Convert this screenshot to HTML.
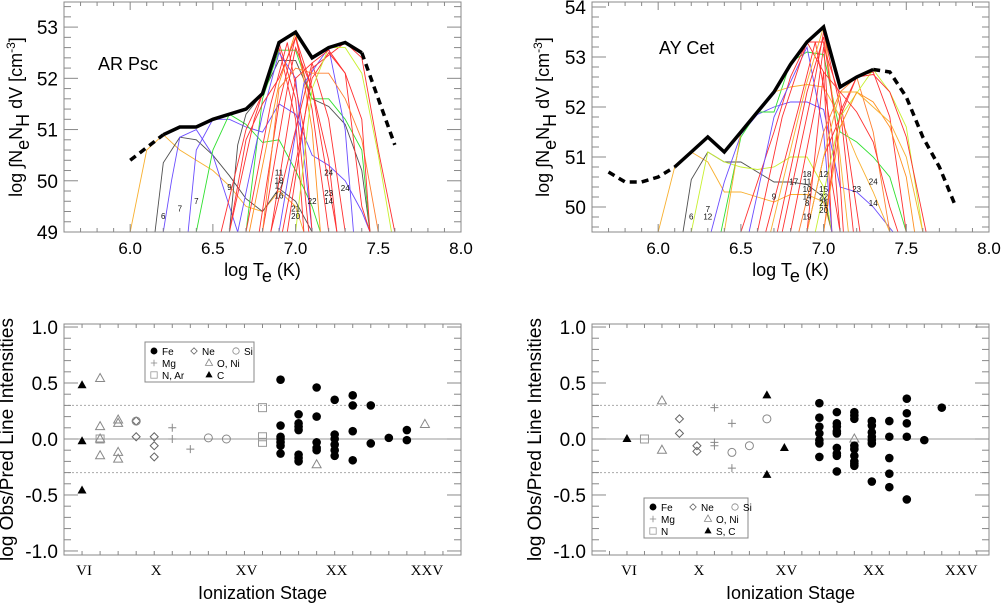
<!DOCTYPE html>
<html><head><meta charset="utf-8">
<style>
html,body{margin:0;padding:0;background:#fff;}
body{width:1002px;height:603px;overflow:hidden;font-family:"Liberation Sans",sans-serif;}
svg text{font-family:"Liberation Sans",sans-serif;}
.serif{font-family:"Liberation Serif",serif !important;}
</style></head>
<body>
<svg id="fig" width="1002" height="603" viewBox="0 0 1002 603" xmlns="http://www.w3.org/2000/svg"></svg>
<script>
// ===== DATA =====
const emdA_T = [6.2,6.3,6.4,6.5,6.6,6.7,6.8,6.9,7.0,7.1,7.2,7.3,7.4];
const emdA_V = [50.9,51.05,51.05,51.2,51.3,51.4,51.7,52.7,52.9,52.4,52.6,52.7,52.5];
const emdA_dashLo_T = [6.0,6.2];
const emdA_dashLo_V = [50.4,50.9];
const emdA_dashHi_T = [7.4,7.6];
const emdA_dashHi_V = [52.5,50.7];
const emdB_T = [6.1,6.2,6.3,6.4,6.5,6.6,6.7,6.8,6.9,7.0,7.1,7.2,7.3];
const emdB_V = [50.8,51.1,51.4,51.1,51.5,51.9,52.3,52.85,53.3,53.6,52.4,52.6,52.75];
const emdB_dashLo_T = [5.7,5.8,5.9,6.0,6.1];
const emdB_dashLo_V = [50.7,50.5,50.5,50.6,50.8];
const emdB_dashHi_T = [7.3,7.4,7.5,7.6,7.7,7.8];
const emdB_dashHi_V = [52.75,52.7,52.2,51.4,50.8,50.0];

const lociA = [
 [6.0,49,6.1,50.6,6.2,50.9,6.3,50.6,6.4,50.4,6.5,50.2,6.6,49.9,6.7,49.5,6.8,49.4,6.9,49.8,7.0,49.5,7.05,49],
 [6.15,49,6.2,50.35,6.3,50.85,6.4,50.8,6.5,50.5,6.6,50.1,6.7,49.65,6.8,49.4,6.9,49.85,7.0,49.6,7.1,49],
 [6.2,49,6.25,50,6.3,50.85,6.4,51.0,6.5,50.5,6.6,49.5,6.65,49],
 [6.35,49,6.4,50.6,6.5,51.2,6.6,51.2,6.7,51.05,6.8,50.95,6.9,51.5,7.0,51.3,7.1,50.5,7.2,50.3,7.3,50.0,7.4,49.4,7.45,49],
 [6.4,49,6.5,50.6,6.6,51.3,6.7,51.1,6.8,50.75,6.9,50.8,7.0,50.2,7.1,49.5,7.15,49],
 [6.6,49,6.65,50.7,6.7,51.3,6.8,51.7,6.9,52.35,7.0,52.35,7.1,51.6,7.2,51.45,7.3,51.1,7.4,50.2,7.45,49],
 [6.7,49,6.8,51.6,6.9,52.55,7.0,52.55,7.1,51.6,7.2,51.6,7.3,51.2,7.4,50.6,7.45,49],
 [6.55,49,6.7,51.0,6.8,51.7,6.9,52.6,7.0,51.2,7.05,49],
 [6.6,49,6.75,51.2,6.9,52.7,7.0,51.6,7.08,49],
 [6.65,49,6.8,51.3,6.9,52.5,7.0,52.0,7.1,49],
 [6.7,49,6.85,51.5,6.95,52.7,7.05,51.0,7.1,49],
 [6.72,49,6.9,51.9,7.0,52.9,7.1,51.0,7.15,49],
 [6.78,49,6.9,51.5,7.0,52.8,7.1,51.4,7.2,49],
 [6.8,49,6.95,51.8,7.0,52.6,7.1,51.8,7.25,49],
 [6.85,49,7.0,52.0,7.1,52.3,7.2,51.2,7.3,49],
 [6.9,49,7.05,51.9,7.2,52.6,7.3,51.0,7.35,49],
 [6.92,49,7.1,52.0,7.2,52.5,7.3,52.1,7.4,49.5,7.45,49],
 [6.95,49,7.1,52.2,7.3,52.7,7.4,52.4,7.5,50.6,7.6,49],
 [7.0,49,7.1,51.8,7.2,52.6,7.3,52.6,7.4,52.1,7.5,50.5,7.58,49],
 [6.8,49,6.9,51.8,7.0,52.2,7.1,52.1,7.2,52.1,7.3,51.6,7.4,50.8,7.5,49],
 [6.85,49,7.0,51.0,7.1,52.3,7.2,52.55,7.3,52.1,7.4,51.2,7.45,49],
 [6.6,49,6.7,50.8,6.8,51.5,6.9,52.0,7.0,52.8,7.1,51.8,7.2,50.4,7.25,49]
];
const lociA_colors = ['#f8b030','#505050','#6a4cff','#6a4cff','#30e030','#505050','#30e030','#ff3030','#ff3030','#6a4cff','#ff3030','#ff9020','#ff3030','#ff3030','#ff3030','#6a4cff','#ff3030','#ff3030','#c8f030','#ff8030','#ff3030','#ff3030'];
const labelsA_T = [6.2,6.3,6.4,6.6,6.9,6.9,6.9,6.9,7.0,7.0,7.1,7.2,7.2,7.2,7.3];
const labelsA_V = [49.25,49.4,49.55,49.82,50.1,49.95,49.85,49.65,49.4,49.25,49.55,50.1,49.7,49.55,49.8];
const labelsA_S = ['6','7','7','9','11','18','17','16','21','20','22','24','23','14','24'];

const lociB = [
 [6.0,49.5,6.1,50.8,6.2,51.1,6.3,50.9,6.4,50.3,6.5,50.3,6.6,50.2,6.7,50.1,6.8,50.25,6.9,50.25,7.0,50.1,7.05,49.5],
 [6.15,49.5,6.2,50.55,6.3,51.1,6.4,50.9,6.5,50.9,6.6,50.7,6.7,50.5,6.8,50.5,6.9,50.45,7.0,50.2,7.05,49.5],
 [6.2,49.5,6.3,51.1,6.4,50.9,6.5,50.8,6.6,50.75,6.7,50.8,6.8,51.0,6.9,51.0,7.0,50.4,7.05,49.5],
 [6.32,49.5,6.4,50.5,6.5,51.45,6.6,51.85,6.7,52.0,6.8,52.1,6.9,52.1,7.0,51.95,7.1,50.4,7.2,50.3,7.3,50.0,7.42,49.5],
 [6.38,49.5,6.5,51.4,6.6,51.9,6.7,51.9,6.8,52.9,6.9,53.1,7.0,53.05,7.1,51.5,7.2,51.3,7.3,51.0,7.4,50.6,7.5,49.5],
 [6.4,49.5,6.5,51.5,6.6,51.9,6.7,52.3,6.8,52.4,6.9,52.45,7.0,52.4,7.1,51.8,7.2,51.0,7.3,50.3,7.4,49.5],
 [6.5,49.5,6.7,51.5,6.8,52.6,6.9,53.3,7.0,52.7,7.05,49.5],
 [6.55,49.5,6.7,51.8,6.9,53.2,7.0,51.5,7.05,49.5],
 [6.6,49.5,6.75,51.8,6.9,53.3,7.0,53.3,7.05,50.5,7.1,49.5],
 [6.65,49.5,6.85,52.0,6.95,53.3,7.05,51.5,7.1,49.5],
 [6.68,49.5,6.9,52.5,7.0,53.6,7.1,51.0,7.15,49.5],
 [6.72,49.5,6.9,52.3,7.0,53.4,7.08,51.5,7.12,49.5],
 [6.75,49.5,6.95,52.6,7.0,53.5,7.1,52.0,7.18,49.5],
 [6.8,49.5,6.95,52.0,7.0,53.2,7.1,52.2,7.22,49.5],
 [6.85,49.5,7.0,51.5,7.1,52.3,7.2,52.6,7.3,51.5,7.4,49.5],
 [6.9,49.5,7.0,51.0,7.2,52.6,7.3,52.7,7.4,51.8,7.5,49.5],
 [6.95,49.5,7.1,51.8,7.3,52.75,7.4,52.3,7.5,51.6,7.6,49.5],
 [7.0,49.5,7.1,51.9,7.2,52.6,7.3,52.65,7.4,52.3,7.5,51.4,7.62,49.5],
 [7.0,49.5,7.1,51.6,7.2,52.3,7.3,52.1,7.4,51.6,7.5,50.6,7.55,49.5],
 [6.9,49.5,7.0,51.0,7.1,52.3,7.2,52.3,7.3,52.0,7.4,51.7,7.5,51.0,7.6,49.5],
 [6.9,49.5,7.0,52.7,7.1,52.3,7.2,51.9,7.3,51.3,7.4,50.0,7.45,49.5]
];
const lociB_colors = ['#f8b030','#505050','#c8f030','#6a4cff','#30e030','#f8b030','#ff3030','#6a4cff','#ff3030','#ff3030','#f8b030','#ff3030','#ff3030','#ff3030','#ff8030','#ff3030','#c8f030','#ff3030','#ff9020','#f8b030','#ff3030'];
const labelsB_T = [6.2,6.3,6.3,6.7,6.82,6.9,6.9,6.9,6.9,6.9,6.9,7.0,7.0,7.0,7.0,7.0,7.2,7.3,7.3];
const labelsB_V = [49.75,49.9,49.75,50.15,50.45,50.6,50.45,50.3,50.15,50.02,49.75,50.6,50.3,50.15,50.02,49.88,50.3,50.45,50.02];
const labelsB_S = ['6','7','12','9','17','18','11','10','14','8','19','12','15','22','21','20','23','24','14'];

const cFe_x = [17,17,17,17,17,17,17,18,18,18,18,18,18,18,19,19,19,19,19,20,20,20,20,20,20,21,21,21,21,22,22,23,24,24];
const cFe_y = [0.53,0.12,0.02,0.0,-0.03,-0.06,-0.13,0.22,0.14,0.11,0.08,-0.14,-0.17,-0.2,0.46,0.2,-0.03,-0.08,-0.1,0.35,0.04,0.0,-0.05,-0.1,-0.15,0.39,0.3,0.07,-0.19,0.3,-0.04,0.01,0.08,-0.01];
const cNe_x = [9,9,10,10,10];
const cNe_y = [0.16,0.02,0.02,-0.06,-0.16];
const cSi_x = [9,13,14];
const cSi_y = [0.16,0.01,0.0];
const cMg_x = [11,11,12];
const cMg_y = [0.1,0.0,-0.09];
const cO_x = [7,7,7,7,8,8,8,8,19,25];
const cO_y = [0.54,0.11,0.0,-0.15,0.17,0.14,-0.12,-0.18,-0.23,0.13];
const cN_x = [7,16,16,16];
const cN_y = [0.0,0.28,0.02,-0.03];
const cC_x = [6,6,6];
const cC_y = [0.48,-0.02,-0.46];

const dFe_x = [17,17,17,17,17,17,17,18,18,18,18,18,18,18,18,18,19,19,19,19,19,19,19,19,19,20,20,20,20,20,20,20,21,21,21,21,21,22,22,22,22,22,23,24];
const dFe_y = [0.32,0.19,0.11,0.05,-0.01,-0.04,-0.16,0.24,0.14,0.11,0.07,0.05,-0.08,-0.13,-0.15,-0.29,0.24,0.21,0.18,-0.06,-0.09,-0.15,-0.2,-0.22,-0.24,0.16,0.12,0.06,0.02,-0.01,-0.04,-0.38,0.16,0.02,-0.17,-0.31,-0.43,0.36,0.23,0.14,0.02,-0.54,-0.01,0.28];
const dNe_x = [9,9,10,10];
const dNe_y = [0.18,0.05,-0.06,-0.11];
const dSi_x = [12,13,14];
const dSi_y = [-0.12,-0.06,0.18];
const dMg_x = [11,11,11,12,12];
const dMg_y = [0.28,-0.03,-0.06,0.14,-0.26];
const dO_x = [8,8,19];
const dO_y = [0.34,-0.1,0.0];
const dN_x = [7];
const dN_y = [0.0];
const dC_x = [6,14,14,15];
const dC_y = [0.0,0.39,-0.32,-0.08];

const romanTicks = [6,10,15,20,25];
const romanLabels = ['VI','X','XV','XX','XXV'];

// ===== DRAWING =====
const svg = document.getElementById('fig');
const NS = 'http://www.w3.org/2000/svg';
function mk(tag, attrs, parent){
  const e = document.createElementNS(NS, tag);
  for (const k in attrs) e.setAttribute(k, attrs[k]);
  (parent||svg).appendChild(e);
  return e;
}
function panel(x0,y0,x1,y1,xmin,xmax,ymin,ymax){
  return {x0,y0,x1,y1,
    sx:v=>x0+(v-xmin)/(xmax-xmin)*(x1-x0),
    sy:v=>y1-(v-ymin)/(ymax-ymin)*(y1-y0)};
}
function drawTicks(P, g, xs, xmajor, ys, ymajor){
  xs.forEach((v,i)=>{
    const x=P.sx(v), L = xmajor[i]?8:4;
    mk('line',{x1:x,y1:P.y1,x2:x,y2:P.y1-L,stroke:'#888','stroke-width':1},g);
    mk('line',{x1:x,y1:P.y0,x2:x,y2:P.y0+L,stroke:'#888','stroke-width':1},g);
  });
  ys.forEach((v,i)=>{
    const y=P.sy(v), L = ymajor[i]?14:7;
    mk('line',{x1:P.x0,y1:y,x2:P.x0+L,y2:y,stroke:'#888','stroke-width':1},g);
    mk('line',{x1:P.x1,y1:y,x2:P.x1-L,y2:y,stroke:'#888','stroke-width':1},g);
  });
  mk('rect',{x:P.x0,y:P.y0,width:P.x1-P.x0,height:P.y1-P.y0,fill:'none',stroke:'#888','stroke-width':1},g);
}
function poly(P, T, V, g, attrs){
  const pts = T.map((t,i)=>P.sx(t).toFixed(1)+','+P.sy(V[i]).toFixed(1)).join(' ');
  const a = Object.assign({points:pts, fill:'none'}, attrs);
  return mk('polyline', a, g);
}

function emPanel(id, P, ymin, ymax, loci, colors, emd, labT, labV, labS, title, titleX, titleY, ylabX, yMajors){
  const g = mk('g',{});
  
  
  const clipId = id+'-clip';
  const defs = mk('defs',{},g);
  const cp = mk('clipPath',{id:clipId},defs);
  mk('rect',{x:P.x0,y:P.y0,width:P.x1-P.x0,height:P.y1-P.y0},cp);
  const cg = mk('g',{'clip-path':'url(#'+clipId+')'},g);
  loci.forEach((arr,i)=>{
    const T=[],V=[];
    for(let k=0;k<arr.length;k+=2){T.push(arr[k]);V.push(arr[k+1]);}
    const l = poly(P,T,V,cg,{stroke:colors[i],'stroke-width':0.9});
    
    
  });
  labT.forEach((t,i)=>{
    const tx = mk('text',{x:P.sx(t),y:P.sy(labV[i]),'font-size':8,'text-anchor':'middle',fill:'#111'},cg);
    tx.textContent = labS[i];
  });
  const m = poly(P,emd[0],emd[1],cg,{stroke:'#000','stroke-width':3.5,'stroke-linejoin':'miter'});
  
  
  const d1 = poly(P,emd[2],emd[3],cg,{stroke:'#000','stroke-width':3.5,'stroke-dasharray':'7,5'});
  
  
  const d2 = poly(P,emd[4],emd[5],cg,{stroke:'#000','stroke-width':3.5,'stroke-dasharray':'7,5'});
  
  
  const xs=[],xm=[];
  for(let k=56;k<=80;k++){xs.push(k/10);xm.push(k%5===0);}
  const ys=[],ym=[];
  for(let k=Math.ceil(ymin*5);k<=Math.floor(ymax*5);k++){ys.push(k/5);ym.push(k%5===0);}
  drawTicks(P,g,xs,xm,ys,ym);
  [6.0,6.5,7.0,7.5,8.0].forEach(v=>{
    const t = mk('text',{x:P.sx(v),y:P.y1+22,'font-size':17,'text-anchor':'middle',fill:'#000'},g);
    t.textContent = v.toFixed(1);
    
    
  });
  yMajors.forEach(v=>{
    const t = mk('text',{x:P.x0-6,y:P.sy(v)+7,'font-size':19,'text-anchor':'end',fill:'#000'},g);
    t.textContent = v;
    
    
  });
  const xt = mk('text',{x:(P.x0+P.x1)/2,y:P.y1+44,'font-size':18,'text-anchor':'middle',fill:'#000'},g);
  xt.innerHTML = 'log T<tspan dy="6" font-size="18">e</tspan><tspan dy="-6"> (K)</tspan>';
  
  
  const yt = mk('text',{x:0,y:0,'font-size':18,'text-anchor':'middle',fill:'#000',transform:'translate('+ylabX+','+((P.y0+P.y1)/2)+') rotate(-90)'},g);
  yt.innerHTML = 'log ∫N<tspan dy="7" font-size="18">e</tspan><tspan dy="-7">N</tspan><tspan dy="7" font-size="18">H</tspan><tspan dy="-7"> dV [cm</tspan><tspan dy="-7" font-size="12">-3</tspan><tspan dy="7">]</tspan>';
  
  
  const tt = mk('text',{x:titleX,y:titleY,'font-size':18,fill:'#000'},g);
  tt.textContent = title;
  
  
}

const PA = panel(64,2,461,232,5.6,8.0,49,53.49);
emPanel('emd-panel-ar-psc',PA,49,53.49,lociA,lociA_colors,[emdA_T,emdA_V,emdA_dashLo_T,emdA_dashLo_V,emdA_dashHi_T,emdA_dashHi_V],labelsA_T,labelsA_V,labelsA_S,'AR Psc',98,70,22,[49,50,51,52,53]);
const PB = panel(592,2,989,232,5.6,8.0,49.5,54.1);
emPanel('emd-panel-ay-cet',PB,49.5,54.1,lociB,lociB_colors,[emdB_T,emdB_V,emdB_dashLo_T,emdB_dashLo_V,emdB_dashHi_T,emdB_dashHi_V],labelsB_T,labelsB_V,labelsB_S,'AY Cet',659,54,549,[50,51,52,53,54]);

function marker(g, type, x, y){
  let e;
  if(type==='fe') e = mk('circle',{cx:x,cy:y,r:4.3,fill:'#000'},g);
  else if(type==='si') e = mk('circle',{cx:x,cy:y,r:4,fill:'none',stroke:'#888','stroke-width':1},g);
  else if(type==='ne') e = mk('polygon',{points:`${x},${y-4} ${x+4},${y} ${x},${y+4} ${x-4},${y}`,fill:'none',stroke:'#666','stroke-width':1},g);
  else if(type==='mg') e = mk('path',{d:`M${x-4},${y}H${x+4}M${x},${y-4}V${y+4}`,stroke:'#888','stroke-width':1},g);
  else if(type==='o') e = mk('polygon',{points:`${x},${y-5} ${x+4.5},${y+3} ${x-4.5},${y+3}`,fill:'none',stroke:'#888','stroke-width':1},g);
  else if(type==='n') e = mk('rect',{x:x-4,y:y-4,width:8,height:8,fill:'none',stroke:'#999','stroke-width':1},g);
  else e = mk('polygon',{points:`${x},${y-5} ${x+4.5},${y+3} ${x-4.5},${y+3}`,fill:'#000'},g);
  return e;
}

function ratioPanel(id, P, smin, series, legend){
  const g = mk('g',{});
  
  
  [0.3,-0.3].forEach(v=>{
    mk('line',{x1:P.x0,x2:P.x1,y1:P.sy(v),y2:P.sy(v),stroke:'#aaa','stroke-width':1,'stroke-dasharray':'2,2'},g);
  });
  mk('line',{x1:P.x0,x2:P.x1,y1:P.sy(0),y2:P.sy(0),stroke:'#999','stroke-width':1},g);
  const xs=[],xm=[];
  for(let s=smin;s<=smin+22;s++){xs.push(s);xm.push(false);}
  const ys=[],ym=[];
  for(let k=-10;k<=10;k++){ys.push(k/10);ym.push(k%5===0);}
  drawTicks(P,g,xs,xm,ys,ym);
  romanTicks.forEach((s,i)=>{
    const t = mk('text',{x:P.sx(s)+2,y:P.y1+20,'font-size':15,'text-anchor':'middle',fill:'#000','class':'serif'},g);
    t.textContent = romanLabels[i];
    
    
  });
  [1.0,0.5,0.0,-0.5,-1.0].forEach(v=>{
    const t = mk('text',{x:P.x0-6,y:P.sy(v)+7,'font-size':19,'text-anchor':'end',fill:'#000'},g);
    t.textContent = v.toFixed(1);
    
    
  });
  const xt = mk('text',{x:(P.x0+P.x1)/2,y:P.y1+44,'font-size':18,'text-anchor':'middle',fill:'#000'},g);
  xt.textContent = 'Ionization Stage';
  
  
  const yt = mk('text',{x:0,y:0,'font-size':19,'text-anchor':'middle',fill:'#000',transform:'translate('+(P.x0-51)+','+((P.y0+P.y1)/2)+') rotate(-90)'},g);
  yt.textContent = 'log Obs/Pred Line Intensities';
  
  
  series.forEach(s=>{
    s[1].forEach((st,i)=>{
      const m = marker(g, s[0], P.sx(st), P.sy(s[2][i]));
      
      
    });
  });
  const lg = mk('g',{},g);
  
  
  const [lx,ly,lw,lh,names] = legend;
  mk('rect',{x:lx,y:ly,width:lw,height:lh,fill:'#fff',stroke:'#888','stroke-width':1},lg);
  const pos = [[0,0,'fe'],[40,0,'ne'],[82,0,'si'],[0,1,'mg'],[55,1,'o'],[0,2,'n'],[55,2,'c']];
  pos.forEach((p,i)=>{
    const mx = lx+9+p[0], my = ly+9+p[1]*12;
    const sc = mk('g',{transform:`translate(${mx},${my}) scale(0.8) translate(${-mx},${-my})`},lg);
    marker(sc,p[2],mx,my);
    const t = mk('text',{x:mx+8,y:my+4,'font-size':10,fill:'#000'},lg);
    t.textContent = names[i];
    
    
  });
}

const PC = panel(64,324,461,555,5,27,-1.036,1.027);
ratioPanel('ratio-panel-ar-psc',PC,5,[
  ['n',cN_x,cN_y],['o',cO_x,cO_y],['ne',cNe_x,cNe_y],['si',cSi_x,cSi_y],['mg',cMg_x,cMg_y],['c',cC_x,cC_y],['fe',cFe_x,cFe_y]
],[145,342,109,40,['Fe','Ne','Si','Mg','O, Ni','N, Ar','C']]);
const PD = panel(592,324,989,555,4,26.7,-1.036,1.027);
ratioPanel('ratio-panel-ay-cet',PD,4,[
  ['n',dN_x,dN_y],['o',dO_x,dO_y],['ne',dNe_x,dNe_y],['si',dSi_x,dSi_y],['mg',dMg_x,dMg_y],['c',dC_x,dC_y],['fe',dFe_x,dFe_y]
],[644,498,104,40,['Fe','Ne','Si','Mg','O, Ni','N','S, C']]);
</script>
</body></html>
